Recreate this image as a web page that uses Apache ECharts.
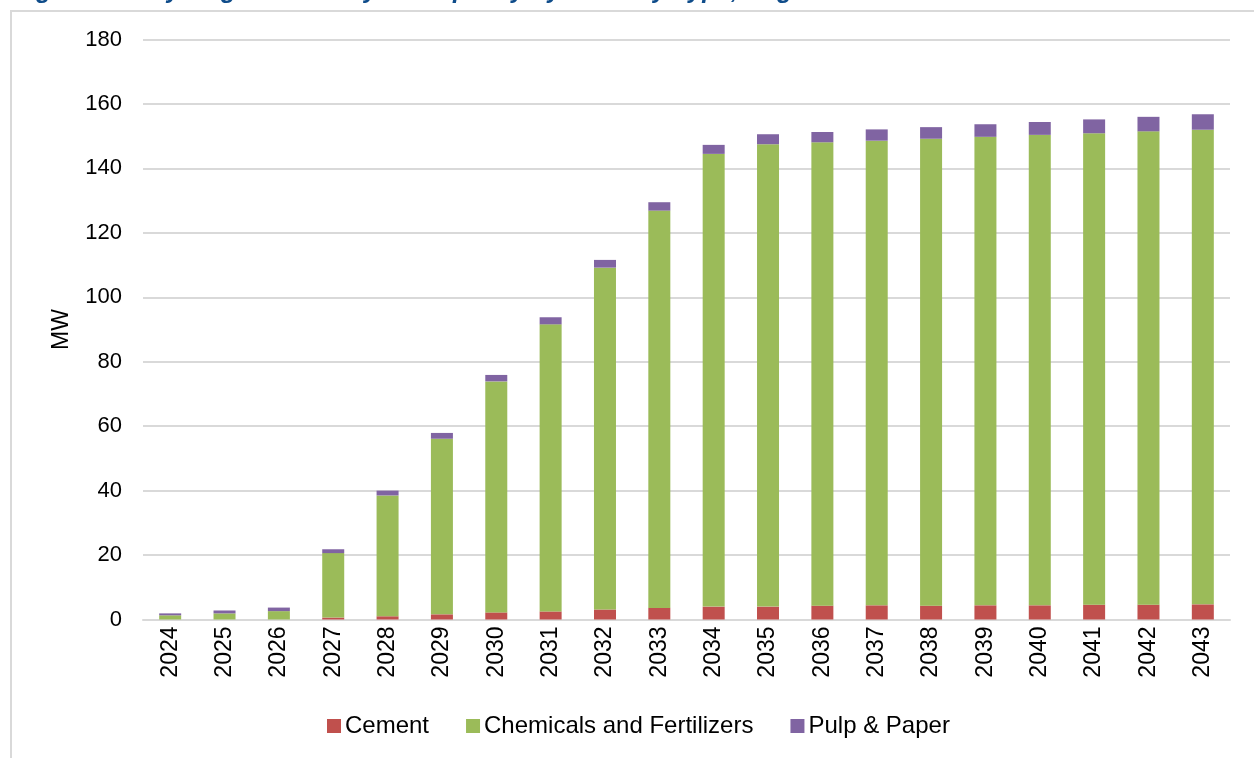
<!DOCTYPE html>
<html>
<head>
<meta charset="utf-8">
<title>Electrolyzer Capacity by Industry Type</title>
<script src="https://cdn.jsdelivr.net/npm/echarts@6/dist/echarts.min.js"></script>
<style>
  html, body { margin: 0; padding: 0; background: #ffffff; }
  #chart { width: 1254px; height: 758px; }
</style>
</head>
<body>
<div id="chart"></div>
<script>
// Years on the category axis
const years = ['2024','2025','2026','2027','2028','2029','2030','2031','2032','2033',
               '2034','2035','2036','2037','2038','2039','2040','2041','2042','2043'];

// Stacked capacity (MW) by industry type
const cement = [0, 0, 0, 0.6, 1.0, 1.6, 2.2, 2.5, 3.1, 3.6,
                4.0, 4.0, 4.3, 4.4, 4.3, 4.4, 4.4, 4.6, 4.6, 4.7];
const chemicals = [1.3, 1.9, 2.6, 20.0, 37.5, 54.5, 71.7, 89.1, 106.1, 123.3,
                   140.5, 143.5, 143.8, 144.2, 144.9, 145.4, 146.0, 146.3, 146.9, 147.3];
const pulpPaper = [0.6, 0.9, 1.1, 1.2, 1.5, 1.8, 2.0, 2.2, 2.4, 2.6,
                   2.8, 3.1, 3.2, 3.5, 3.6, 3.9, 4.0, 4.3, 4.5, 4.8];

const seriesNames = ['Cement', 'Chemicals and Fertilizers', 'Pulp & Paper'];
const yTicks = [0, 20, 40, 60, 80, 100, 120, 140, 160, 180];

const chartTitle = 'Figure 2-9: Hydrogen Electrolyzer Capacity by Industry Type, Region';

const colors = ['#C0504D', '#9BBB59', '#8064A2'];
const font = '"Liberation Sans", Arial, sans-serif';

const chart = echarts.init(document.getElementById('chart'), null, { renderer: 'canvas' });

const makeBar = (name, data, color) => ({
  name: name,
  type: 'bar',
  stack: 'total',
  data: data,
  barWidth: 22,
  itemStyle: { color: color },
  emphasis: { disabled: true }
});

chart.setOption({
  animation: false,
  color: colors,
  grid: { left: 143, right: 24, top: 39.5, bottom: 138.5, containLabel: false },
  legend: {
    data: seriesNames,
    left: 327,
    top: 714,
    padding: 0,
    icon: 'rect',
    itemWidth: 14,
    itemHeight: 14,
    itemGap: 37,
    textStyle: { fontFamily: font, fontSize: 24, color: '#000000', padding: [0, 0, 0, -1] }
  },
  xAxis: {
    type: 'category',
    data: years,
    axisLine: { show: true, lineStyle: { color: '#d9d9d9', width: 2 } },
    axisTick: { show: false },
    axisLabel: {
      rotate: 90,
      margin: 7,
      fontFamily: font,
      fontSize: 23,
      color: '#000000'
    }
  },
  yAxis: {
    type: 'value',
    min: yTicks[0],
    max: yTicks[yTicks.length - 1],
    interval: yTicks[1] - yTicks[0],
    name: 'MW',
    nameLocation: 'middle',
    nameGap: 70,
    nameTextStyle: { fontFamily: font, fontSize: 23, color: '#000000' },
    axisLine: { show: false },
    axisTick: { show: false },
    splitLine: { lineStyle: { color: '#d9d9d9', width: 2 } },
    axisLabel: {
      margin: 21,
      fontFamily: font,
      fontSize: 22,
      color: '#000000'
    }
  },
  graphic: [
    {
      type: 'polyline',
      silent: true,
      shape: { points: [[11, 758], [11, 11], [1254, 11]] },
      style: { stroke: '#d9d9d9', lineWidth: 2, fill: null }
    },
    {
      // Heading runs off the top edge of the frame; only its lower edge shows
      type: 'text',
      silent: true,
      x: 14,
      y: 4,
      style: {
        text: chartTitle,
        verticalAlign: 'bottom',
        fontFamily: font,
        fontSize: 25,
        fontWeight: 'bold',
        fontStyle: 'italic',
        fill: '#0F4C8A'
      }
    }
  ],
  series: [
    makeBar(seriesNames[0], cement, colors[0]),
    makeBar(seriesNames[1], chemicals, colors[1]),
    makeBar(seriesNames[2], pulpPaper, colors[2])
  ]
});
</script>
</body>
</html>
